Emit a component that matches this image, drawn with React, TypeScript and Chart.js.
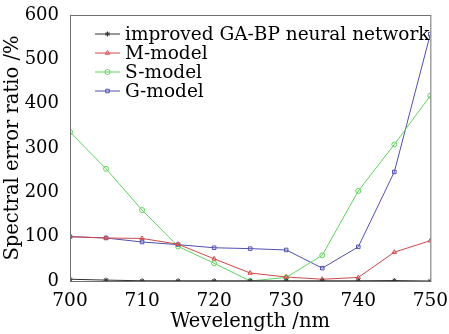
import React, { useEffect, useRef } from "react";
import { Chart, registerables } from "chart.js";
import { drawPoint } from "chart.js/helpers";

Chart.register(...registerables);

const wavelengths = [700, 705, 710, 715, 720, 725, 730, 735, 740, 745, 750];
const gabpValues = [4, 2, 0.5, 0.5, 0.5, 0.5, 0.5, 0.5, 0.5, 1, 0];
const mModelValues = [100, 97, 96, 83, 50, 18, 9, 4, 8, 65, 91];
const sModelValues = [336, 253, 160, 78, 40, 0, 8, 58, 203, 308, 418];
const gModelValues = [100, 97, 88, 82, 75, 73, 70, 29, 77, 246, 557];
const seriesNames = ["improved GA-BP neural network", "M-model", "S-model", "G-model"];
const yTicks = [0, 100, 200, 300, 400, 500, 600];
const xTicks = [700, 710, 720, 730, 740, 750];

const FONT = "'DejaVu Serif', serif";

export default function App() {
  const ref = useRef<HTMLCanvasElement>(null);
  useEffect(() => {
    const canvas = ref.current!;
    const mk = (vals: number[]) => wavelengths.map((x, i) => ({ x, y: vals[i] }));
    const colors = ["#303030", "#d04848", "#5fd35f", "#5050b0"];
    const styles: any[] = ["star", "triangle", "circle", "rect"];
    const datas = [gabpValues, mModelValues, sModelValues, gModelValues];
    const frame = {
      id: "frame",
      afterDraw(chart: any) {
        const { ctx, chartArea: a } = chart;
        ctx.save();
        ctx.strokeStyle = "#707070";
        ctx.lineWidth = 1;
        ctx.strokeRect(a.left + 0.5, a.top + 0.5, a.right - a.left, a.bottom - a.top);
        // legend
        const rowsY = [34, 53, 72, 91];
        ctx.font = `18.5px ${FONT}`;
        ctx.textBaseline = "middle";
        seriesNames.forEach((name, i) => {
          const y = rowsY[i];
          ctx.strokeStyle = colors[i];
          ctx.lineWidth = 1;
          ctx.beginPath();
          ctx.moveTo(95, y);
          ctx.lineTo(120, y);
          ctx.stroke();
          ctx.fillStyle = "rgba(255,255,255,0)";
          drawPoint(ctx, { pointStyle: styles[i], radius: 2.5, rotation: 0, borderWidth: 1 } as any, 107.5, y);
          ctx.fillStyle = "#000000";
          ctx.fillText(name, 125, y + 1);
        });
        ctx.restore();
      },
    };
    const chart = new Chart(canvas, {
      type: "line",
      data: {
        datasets: datas.map((d, i) => ({
          label: seriesNames[i],
          data: mk(d),
          borderColor: colors[i],
          backgroundColor: "rgba(255,255,255,0)",
          borderWidth: 1,
          pointStyle: styles[i],
          pointRadius: 2.5,
          pointBorderWidth: 1,
          pointBorderColor: colors[i],
          pointBackgroundColor: "rgba(255,255,255,0)",
          tension: 0,
        })),
      },
      options: {
        animation: false,
        responsive: false,
        layout: { padding: { top: 15, right: 17, left: 0, bottom: 0 } },
        plugins: { legend: { display: false }, tooltip: { enabled: false } },
        scales: {
          x: {
            type: "linear",
            min: 700,
            max: 750,
            grid: { display: false },
            border: { display: false },
            afterBuildTicks: (s: any) => { s.ticks = xTicks.map((v) => ({ value: v })); },
            afterFit: (s: any) => { s.height = 53; },
            ticks: { color: "#000", font: { family: FONT, size: 18.5 }, padding: 1, maxRotation: 0 },
            title: { display: true, text: "Wevelength /nm", color: "#000", font: { family: FONT, size: 19.5 }, padding: { top: -5, bottom: 0 } },
          },
          y: {
            min: 0,
            max: 600,
            grid: { display: false },
            border: { display: false },
            afterBuildTicks: (s: any) => { s.ticks = yTicks.map((v) => ({ value: v })); },
            afterFit: (s: any) => { s.width = 70; },
            ticks: { color: "#000", font: { family: FONT, size: 18 }, padding: 3 },
            title: { display: true, text: "Spectral error ratio /%", color: "#000", font: { family: FONT, size: 19.5 }, padding: { top: 1, bottom: 0 } },
          },
        },
      },
      plugins: [frame],
    });
    return () => chart.destroy();
  }, []);
  return (
    <div style={{ position: "fixed", left: 0, top: 0, width: 449, height: 334, background: "#fff" }}>
      <canvas ref={ref} width={449} height={334} />
    </div>
  );
}
